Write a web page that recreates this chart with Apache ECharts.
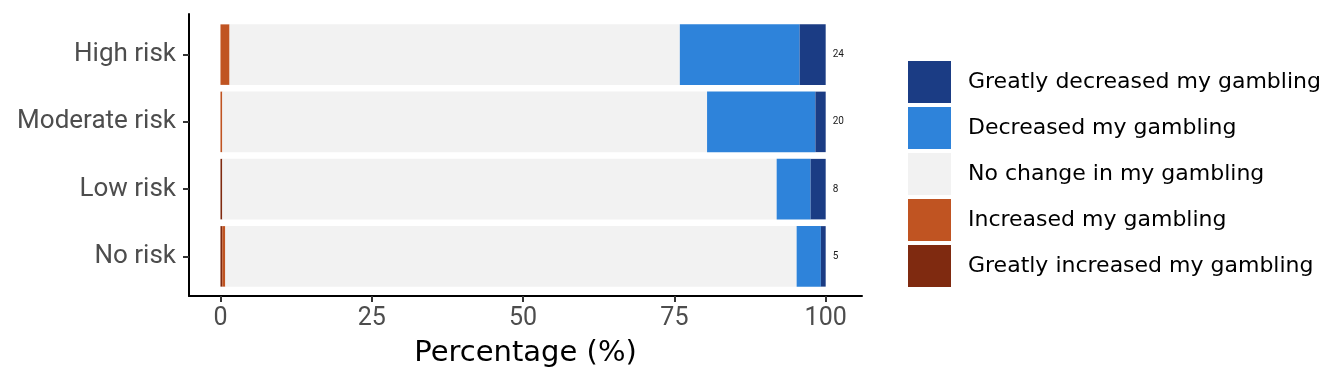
<!DOCTYPE html>
<html><head><meta charset="utf-8">
<script src="https://cdn.jsdelivr.net/npm/echarts@6/dist/echarts.min.js"></script>
<style>html,body{margin:0;padding:0;background:#fff}#c{width:1344px;height:384px}</style>
</head><body><div id="c"></div>
<script>
// categories top to bottom
const categories = ['High risk', 'Moderate risk', 'Low risk', 'No risk'];
const greatlyIncreased = [0, 0, 0.3, 0.3];
const increased = [1.5, 0.3, 0, 0.5];
const noChange = [74.4, 80.1, 91.6, 94.4];
const decreased = [19.8, 17.9, 5.6, 4.0];
const greatlyDecreased = [4.3, 1.7, 2.5, 0.8];
const totalLabels = ['24', '20', '8', '5'];
const xTicks = [0, 25, 50, 75, 100];
const seriesNames = ['Greatly increased my gambling', 'Increased my gambling', 'No change in my gambling', 'Decreased my gambling', 'Greatly decreased my gambling'];
const colors = ['#7F2A10', '#C05422', '#F2F2F2', '#2E83DA', '#1B3C84'];

const legendFont = 'DejaVu Sans';
const chart = echarts.init(document.getElementById('c'));
const seriesData = [greatlyIncreased, increased, noChange, decreased, greatlyDecreased];
const series = seriesData.map((d, i) => ({
  name: seriesNames[i], type: 'bar', stack: 'all', xAxisIndex: 0, yAxisIndex: 0,
  barWidth: '90%', data: d, itemStyle: {color: colors[i]},
  emphasis: {disabled: true}, silent: true,
  label: i === 4 ? {show: true, position: 'right', distance: 7, color: '#1a1a1a', fontSize: 10, fontFamily: 'Roboto',
    formatter: p => totalLabels[p.dataIndex]} : {show: false}
}));
chart.setOption({
  animation: false,
  grid: [
    {left: 189, right: 482, top: 21, bottom: 94},
    {left: 189, right: 482, top: 14, bottom: 88}
  ],
  xAxis: [
    {gridIndex: 0, type: 'value', min: -5.2, max: 106, show: false},
    {gridIndex: 1, type: 'value', min: -5.2, max: 106,
      axisLine: {show: true, onZero: false, lineStyle: {color: '#000', width: 2}},
      axisTick: {show: true, customValues: xTicks, length: 6, lineStyle: {color: '#333', width: 2}},
      axisLabel: {customValues: xTicks, color: '#4d4d4d', fontSize: 25, fontFamily: 'Roboto', margin: 10},
      splitLine: {show: false},
      name: 'Percentage (%)', nameLocation: 'middle', nameGap: 43,
      nameTextStyle: {color: '#000', fontSize: 29, fontFamily: legendFont}}
  ],
  yAxis: [
    {gridIndex: 0, type: 'category', inverse: true, data: categories,
      axisLine: {show: false, onZero: false},
      axisTick: {show: true, alignWithLabel: true, length: 6, lineStyle: {color: '#333', width: 2}},
      axisLabel: {color: '#4d4d4d', fontSize: 26, fontFamily: 'Roboto', margin: 13}},
    {gridIndex: 1, type: 'value', min: 0, max: 1,
      axisLine: {show: true, onZero: false, lineStyle: {color: '#000', width: 2}},
      axisTick: {show: false}, axisLabel: {show: false}, splitLine: {show: false}}
  ],
  legend: {
    orient: 'vertical', left: 908, top: 61, padding: 0, itemWidth: 43, itemHeight: 42, itemGap: 4,
    data: seriesNames.slice().reverse(), selectedMode: false,
    icon: 'rect',
    textStyle: {color: '#000', fontSize: 22, fontFamily: legendFont, padding: [0, 0, 0, 12]}
  },
  series: series
});
</script></body></html>
